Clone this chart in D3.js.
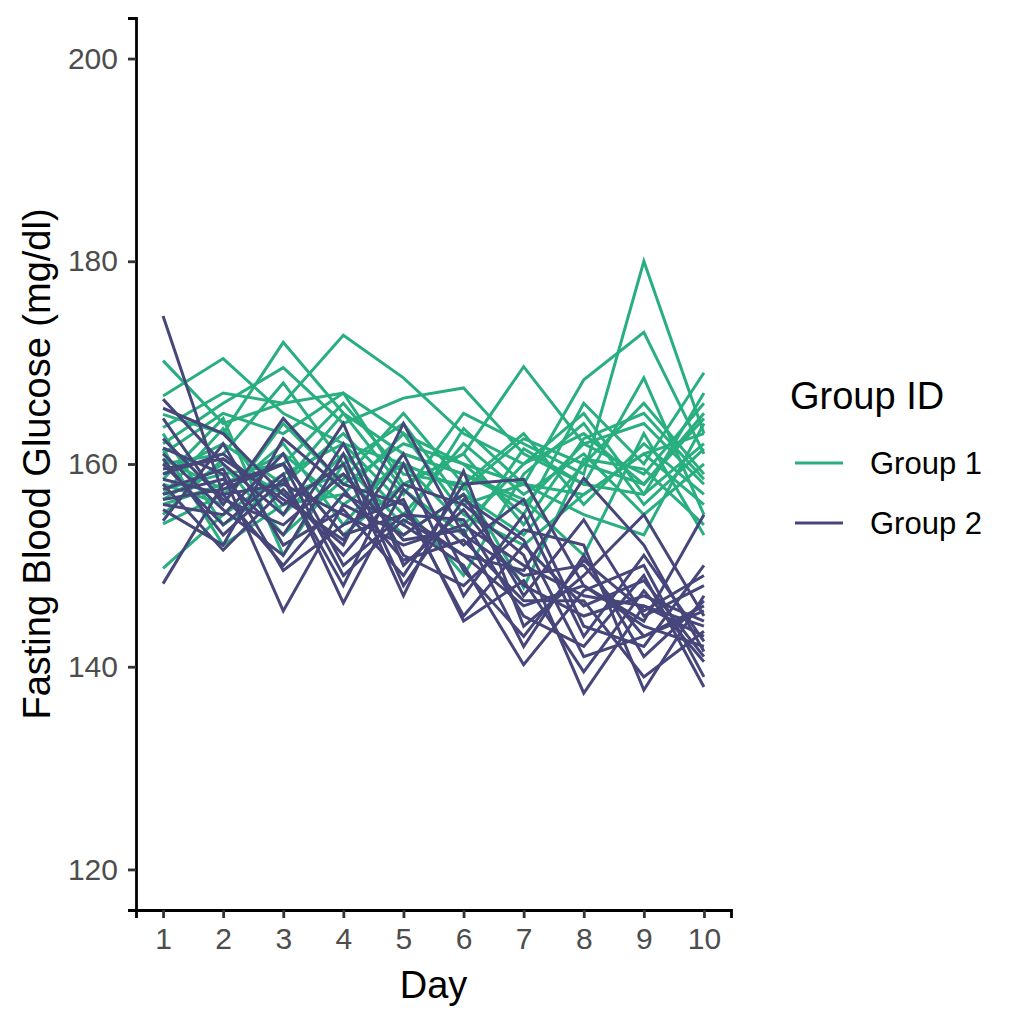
<!DOCTYPE html>
<html>
<head>
<meta charset="utf-8">
<script src="https://cdn.jsdelivr.net/npm/d3@7"></script>
<style>
  body { margin: 0; background: #fff; }
  text { font-family: "Liberation Sans", Arial, sans-serif; }
</style>
</head>
<body>
<div id="chart-area"></div>
<script>
// DATA
const days = [1, 2, 3, 4, 5, 6, 7, 8, 9, 10]
const groupNames = ['Group 1', 'Group 2']
const yTicks = [120, 140, 160, 180, 200]

// GROUP 1 SUBJECTS (glucose per day)
const group1 = [
    [170.2, 164.0, 166.0, 167.0, 163.0, 160.0, 158.0, 157.0, 161.0, 163.0],
    [166.7, 170.4, 165.0, 162.0, 160.0, 157.5, 162.5, 160.0, 158.0, 164.5],
    [164.9, 163.0, 172.0, 165.0, 161.0, 159.0, 156.0, 162.0, 164.0, 158.0],
    [163.6, 167.0, 166.0, 172.7, 168.5, 163.0, 160.0, 165.0, 157.0, 162.0],
    [162.0, 166.0, 169.5, 164.0, 166.5, 167.5, 161.0, 158.0, 168.5, 155.0],
    [161.0, 165.0, 163.0, 167.0, 158.0, 161.0, 169.6, 162.0, 159.0, 166.0],
    [160.0, 161.0, 168.0, 160.0, 164.0, 156.0, 158.0, 168.3, 173.0, 161.0],
    [159.0, 162.0, 158.0, 163.0, 157.0, 165.0, 162.0, 159.0, 180.0, 163.0],
    [158.0, 156.0, 164.0, 158.0, 162.0, 160.0, 155.0, 166.0, 160.0, 169.0],
    [157.5, 159.0, 160.0, 166.0, 159.0, 158.0, 163.0, 156.0, 162.0, 157.0],
    [157.0, 163.5, 155.0, 161.0, 155.0, 162.0, 157.0, 161.0, 155.0, 160.0],
    [156.0, 158.0, 161.0, 156.0, 160.0, 154.0, 160.0, 163.0, 158.0, 165.0],
    [155.0, 160.5, 157.0, 159.0, 153.0, 157.0, 153.0, 160.0, 166.0, 159.0],
    [154.1, 157.0, 162.0, 154.0, 161.0, 159.0, 156.5, 151.0, 163.0, 153.0],
    [149.7, 155.0, 159.0, 162.0, 156.0, 149.0, 159.0, 164.0, 156.0, 161.5],
    [161.5, 152.0, 156.0, 157.0, 163.0, 155.0, 152.0, 157.0, 161.0, 156.0],
    [158.5, 164.5, 151.0, 160.0, 154.0, 163.5, 158.0, 155.0, 153.0, 164.0],
    [160.5, 157.5, 160.0, 153.0, 158.0, 161.0, 154.0, 162.5, 165.0, 158.5],
    [163.0, 154.0, 158.0, 165.0, 157.5, 153.0, 161.5, 158.0, 157.0, 167.0],
    [156.5, 160.0, 153.0, 158.5, 165.0, 158.0, 147.8, 160.5, 159.5, 154.0]
]

// GROUP 2 SUBJECTS
const group2 = [
    [174.6, 157.0, 158.0, 155.0, 152.0, 154.0, 150.0, 147.0, 146.0, 143.0],
    [148.2, 158.0, 160.0, 153.0, 155.0, 151.0, 146.0, 148.0, 144.0, 142.0],
    [166.4, 160.0, 155.0, 164.0, 150.0, 155.5, 148.0, 145.0, 147.0, 144.5],
    [165.5, 163.0, 157.0, 152.0, 164.0, 153.0, 149.0, 150.0, 143.0, 146.0],
    [164.5, 156.0, 164.5, 158.0, 156.0, 145.0, 152.0, 146.0, 148.5, 141.0],
    [161.6, 159.0, 145.5, 156.0, 153.0, 157.0, 147.0, 154.5, 145.0, 148.0],
    [160.0, 154.0, 159.0, 146.3, 157.5, 152.0, 156.5, 144.0, 142.0, 150.0],
    [159.0, 161.0, 156.0, 160.0, 147.0, 159.3, 144.0, 149.0, 155.0, 145.0],
    [158.5, 157.0, 150.0, 157.0, 154.0, 150.0, 140.2, 147.5, 150.0, 139.0],
    [158.0, 151.5, 157.5, 151.0, 158.0, 156.0, 151.0, 137.4, 146.0, 144.0],
    [157.0, 158.5, 153.0, 162.0, 151.0, 148.0, 153.5, 152.0, 137.7, 147.0],
    [156.0, 155.0, 161.0, 150.0, 155.0, 154.5, 145.0, 142.0, 149.0, 138.0],
    [154.4, 162.0, 152.0, 155.5, 149.0, 158.0, 158.5, 148.0, 144.5, 155.0],
    [160.5, 153.0, 158.5, 148.0, 160.0, 147.0, 155.0, 143.0, 151.0, 142.5],
    [162.5, 156.5, 154.0, 159.0, 152.5, 153.5, 142.0, 151.0, 141.0, 146.5],
    [157.5, 159.5, 149.5, 154.0, 156.5, 144.5, 148.5, 139.5, 147.5, 140.5],
    [155.5, 152.0, 162.5, 157.5, 150.5, 152.5, 146.5, 146.5, 139.0, 143.5],
    [159.5, 160.5, 156.5, 152.5, 161.0, 149.5, 143.0, 150.5, 145.5, 149.0],
    [161.0, 155.5, 151.0, 161.0, 148.0, 156.5, 152.5, 141.0, 143.0, 145.5],
    [156.5, 157.5, 160.0, 149.0, 154.5, 151.0, 149.5, 158.6, 152.0, 141.5]
]

const colors = ['#29AF7F', '#46467B']

// CHART MARGINS
const margin = { top: 18, right: 293, bottom: 114, left: 136 }
const width = 1024 - margin.left - margin.right
const height = 1024 - margin.top - margin.bottom

const svg = d3.select('#chart-area')
              .append('svg')
              .attr('width', 1024)
              .attr('height', 1024)

const g = svg.append('g')
             .attr('transform', 'translate(' + margin.left + ',' + margin.top + ')')

// SCALES (ggplot style 5% expansion)
const x = d3.scaleLinear().domain([0.55, 10.45]).range([0, width])
const y = d3.scaleLinear().domain([116, 204]).range([height, 0])

const line = d3.line()
               .x((d, i) => x(days[i]))
               .y(d => y(d))

// LINES
const groups = [group1, group2]
groups.forEach((grp, gi) => {
    g.append('g')
     .selectAll('path')
     .data(grp)
     .enter()
     .append('path')
     .attr('d', line)
     .attr('fill', 'none')
     .attr('stroke', colors[gi])
     .attr('stroke-width', 3)
     .attr('stroke-linejoin', 'miter')
})

// AXES
const xAxisGroup = g.append('g')
                    .attr('transform', 'translate(0,' + height + ')')
                    .call(d3.axisBottom(x).tickValues(days).tickSize(8).tickPadding(10).tickFormat(d3.format('d')))
const yAxisGroup = g.append('g')
                    .call(d3.axisLeft(y).tickValues(yTicks).tickSize(8).tickPadding(10))

;[xAxisGroup, yAxisGroup].forEach(ax => {
    ax.select('.domain').attr('stroke', '#000').attr('stroke-width', 2.8)
    ax.selectAll('.tick line').attr('stroke', '#333').attr('stroke-width', 2.8)
    ax.selectAll('.tick text')
      .attr('fill', '#4D4D4D')
      .attr('font-size', '30px')
      .attr('font-family', '"Liberation Sans", Arial, sans-serif')
})

// AXIS TITLES
svg.append('text')
   .attr('x', margin.left + width / 2)
   .attr('y', 998)
   .attr('text-anchor', 'middle')
   .attr('font-size', '38px')
   .attr('fill', '#000')
   .text('Day')

svg.append('text')
   .attr('transform', 'translate(50,' + (margin.top + height / 2) + ') rotate(-90)')
   .attr('text-anchor', 'middle')
   .attr('font-size', '38px')
   .attr('fill', '#000')
   .text('Fasting Blood Glucose (mg/dl)')

// LEGEND
const legend = svg.append('g').attr('transform', 'translate(790,0)')
legend.append('text')
      .attr('x', 0)
      .attr('y', 409)
      .attr('font-size', '38px')
      .attr('fill', '#000')
      .text('Group ID')

groupNames.forEach((name, i) => {
    const ly = 463 + i * 60
    legend.append('line')
          .attr('x1', 5).attr('x2', 53)
          .attr('y1', ly).attr('y2', ly)
          .attr('stroke', colors[i])
          .attr('stroke-width', 3)
    legend.append('text')
          .attr('x', 80)
          .attr('y', ly + 11)
          .attr('font-size', '31px')
          .attr('fill', '#000')
          .text(name)
})
</script>
</body>
</html>
